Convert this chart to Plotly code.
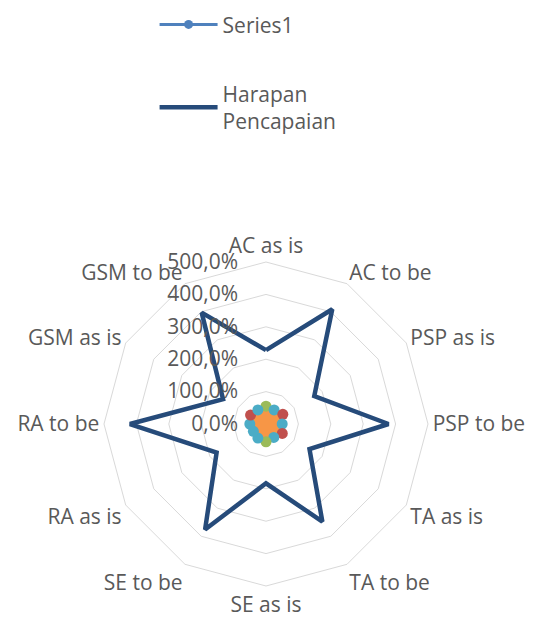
import plotly.graph_objects as go

categories = ["AC as is", "AC to be", "PSP as is", "PSP to be", "TA as is", "TA to be",
              "SE as is", "SE to be", "RA as is", "RA to be", "GSM as is", "GSM to be"]
series1 = [0.55, 0.50, 0.60, 0.50, 0.58, 0.48, 0.55, 0.50, 0.45, 0.50, 0.55, 0.50]
series1_point_colors = ["#9BBB59", "#4BACC6", "#C0504D", "#4BACC6", "#C0504D", "#4BACC6",
                        "#9BBB59", "#4BACC6", "#4BACC6", "#4BACC6", "#C0504D", "#4BACC6"]
harapan = [2.28, 4.09, 1.72, 3.78, 1.55, 3.48, 1.83, 3.76, 1.76, 4.20, 1.53, 3.97]
tick_vals = [0, 1, 2, 3, 4, 5]
tick_text = ["0,0%", "100,0%", "200,0%", "300,0%", "400,0%", "500,0%"]

def closed(v):
    return list(v) + [v[0]]

cats_c = closed(categories)
TXT = "#595959"
FONT = "Open Sans"
FS = 21

fig = go.Figure()

# orange centre fill of Series1
fig.add_trace(go.Scatterpolar(r=closed(series1), theta=cats_c, mode="lines",
                              fill="toself", fillcolor="#F79646",
                              line=dict(color="#F79646", width=1),
                              showlegend=False, hoverinfo="skip"))
# Series1 (legend entry + line)
fig.add_trace(go.Scatterpolar(r=closed(series1), theta=cats_c, mode="lines+markers",
                              name="Series1", legendgroup="a",
                              line=dict(color="#4F81BD", width=3),
                              marker=dict(color="#4F81BD", size=9, symbol="circle")))
# Series1 varied-colour markers
fig.add_trace(go.Scatterpolar(r=series1, theta=categories, mode="markers",
                              showlegend=False,
                              marker=dict(color=series1_point_colors, size=11,
                                          line=dict(width=0))))
fig.add_trace(go.Scatterpolar(r=closed(harapan), theta=cats_c, mode="lines",
                              name="Harapan<br>Pencapaian", legendgroup="b",
                              line=dict(color="#264B7A", width=4.5)))

fig.update_layout(
    width=533, height=621,
    margin=dict(l=0, r=0, t=0, b=0, autoexpand=False),
    paper_bgcolor="white",
    font=dict(family=FONT, color=TXT, size=FS),
    showlegend=True,
    legend=dict(x=0.275, y=1.006, xanchor="left", yanchor="top",
                font=dict(size=FS, color=TXT, family=FONT),
                tracegroupgap=39, itemwidth=58, bgcolor="rgba(0,0,0,0)"),
    polar=dict(
        domain=dict(x=[0.1801, 0.7880], y=[0.0692, 0.5910]),
        bgcolor="white",
        gridshape="linear",
        angularaxis=dict(direction="clockwise", rotation=90,
                         categoryorder="array", categoryarray=categories,
                         showgrid=False, showline=True, linecolor="#D9D9D9",
                         linewidth=1, ticks="",
                         tickfont=dict(size=FS, color=TXT, family=FONT)),
        radialaxis=dict(range=[0, 5], tickvals=tick_vals, ticktext=tick_text,
                        angle=90, tickangle=90, showline=False,
                        ticks="outside", ticklen=20, tickcolor="rgba(0,0,0,0)",
                        gridcolor="#D9D9D9", gridwidth=1, side="counterclockwise",
                        tickfont=dict(size=FS, color=TXT, family=FONT)),
    ),
)

fig.write_html("out.html")
